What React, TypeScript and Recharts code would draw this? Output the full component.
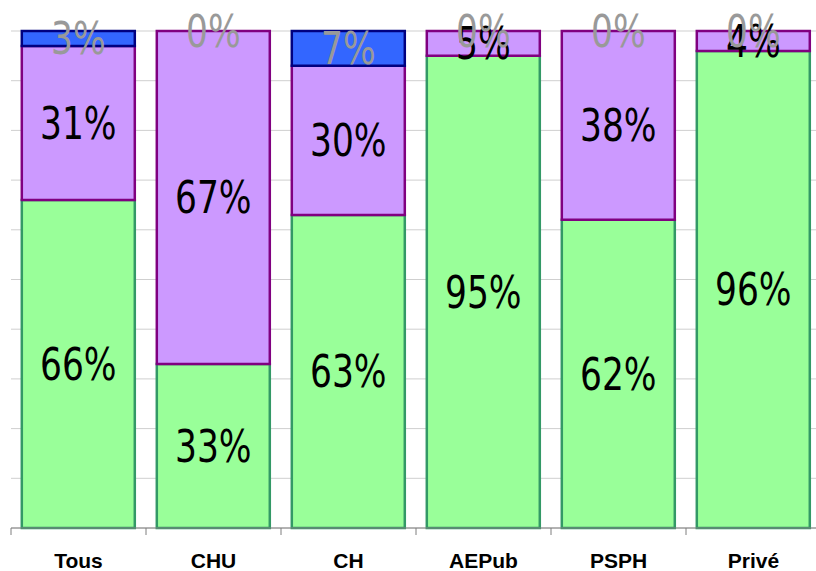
import React from 'react';
import { BarChart, Bar, XAxis, YAxis, CartesianGrid, LabelList } from 'recharts';

const categories = ['Tous', 'CHU', 'CH', 'AEPub', 'PSPH', 'Privé'];
const greenValues = [66, 33, 63, 95, 62, 96];
const purpleValues = [31, 67, 30, 5, 38, 4];
const blueValues = [3, 0, 7, 0, 0, 0];
const yTicks = [0, 10, 20, 30, 40, 50, 60, 70, 80, 90, 100];

const data = categories.map((name, i) => ({
  name,
  green: greenValues[i],
  purple: purpleValues[i],
  blue: blueValues[i],
}));

const CHART_W = 821;
const CHART_H = 571;
const MARGIN = { top: 31, right: 0, left: 11, bottom: 0 };
const PLOT_W = CHART_W - MARGIN.left - MARGIN.right;
const HALF_BAND = PLOT_W / categories.length / 2;

const LABEL_FONT = '"DejaVu Sans Condensed", "DejaVu Sans", sans-serif';
const LABEL_SIZE = 44;
const LABEL_SCALE_X = 0.87;

const CategoryTick = (props: any) => {
  const { x, y, payload, index } = props;
  return (
    <g>
      <line x1={x - HALF_BAND} y1={y} x2={x - HALF_BAND} y2={y + 7} stroke="#7f7f7f" strokeWidth={1} />
      {index === categories.length - 1 && (
        <line x1={x + HALF_BAND} y1={y} x2={x + HALF_BAND} y2={y + 7} stroke="#7f7f7f" strokeWidth={1} />
      )}
      <text
        x={x}
        y={y + 40}
        textAnchor="middle"
        fontFamily='"Liberation Sans", Arial, sans-serif'
        fontWeight="bold"
        fontSize={21}
        fill="#000"
      >
        {payload.value}
      </text>
    </g>
  );
};

const PctText = ({ cx, cy, value, fill }: { cx: number; cy: number; value: any; fill: string }) => (
  <text
    transform={`translate(${cx},${cy}) scale(${LABEL_SCALE_X},1)`}
    x={0}
    y={0}
    dy={LABEL_SIZE * 0.36}
    textAnchor="middle"
    fontFamily={LABEL_FONT}
    fontSize={LABEL_SIZE}
    fill={fill}
  >
    {`${value}%`}
  </text>
);

const getBox = (props: any) => {
  const vb = props.viewBox || {};
  return {
    x: vb.x ?? props.x ?? 0,
    y: vb.y ?? props.y ?? 0,
    width: vb.width ?? props.width ?? 0,
    height: vb.height ?? props.height ?? 0,
  };
};

const greenLabel = (props: any) => {
  const b = getBox(props);
  return <PctText cx={b.x + b.width / 2} cy={b.y + b.height / 2} value={props.value} fill="#000" />;
};

// Purple label; when the blue segment above is zero, its gray "0%" label sits at the top of the purple segment.
const purpleLabel = (props: any) => {
  const b = getBox(props);
  const top = Math.min(b.y, b.y + b.height);
  const idx = props.index;
  const blueZero = idx != null && blueValues[idx] === 0;
  return (
    <g>
      <PctText cx={b.x + b.width / 2} cy={b.y + b.height / 2} value={props.value} fill="#000" />
      {blueZero && <PctText cx={b.x + b.width / 2} cy={top} value={blueValues[idx]} fill="#999999" />}
    </g>
  );
};

const blueLabel = (props: any) => {
  if (!props.value) return null;
  const b = getBox(props);
  return <PctText cx={b.x + b.width / 2} cy={b.y + b.height / 2} value={props.value} fill="#999999" />;
};

export default function App() {
  return (
    <div style={{ position: 'absolute', left: 0, top: 0, width: 816, height: 571, overflow: 'hidden', background: '#fff' }}>
      <BarChart width={CHART_W} height={CHART_H} data={data} margin={MARGIN} barCategoryGap="8%">
        <CartesianGrid horizontal vertical={false} stroke="#cfcfcf" strokeWidth={1} />
        <YAxis hide domain={[0, 100]} ticks={yTicks} type="number" />
        <XAxis
          dataKey="name"
          height={43}
          axisLine={{ stroke: '#7f7f7f', strokeWidth: 1 }}
          tickLine={false}
          tickSize={0}
          tickMargin={0}
          interval={0}
          tick={<CategoryTick />}
        />
        <Bar dataKey="green" stackId="s" fill="#99FF99" stroke="#339966" strokeWidth={2.5} isAnimationActive={false}>
          <LabelList dataKey="green" content={greenLabel} />
        </Bar>
        <Bar dataKey="purple" stackId="s" fill="#CC99FF" stroke="#800080" strokeWidth={2.5} isAnimationActive={false}>
          <LabelList dataKey="purple" content={purpleLabel} />
        </Bar>
        <Bar dataKey="blue" stackId="s" fill="#3366FF" stroke="#000080" strokeWidth={2.5} isAnimationActive={false}>
          <LabelList dataKey="blue" content={blueLabel} />
        </Bar>
      </BarChart>
    </div>
  );
}
